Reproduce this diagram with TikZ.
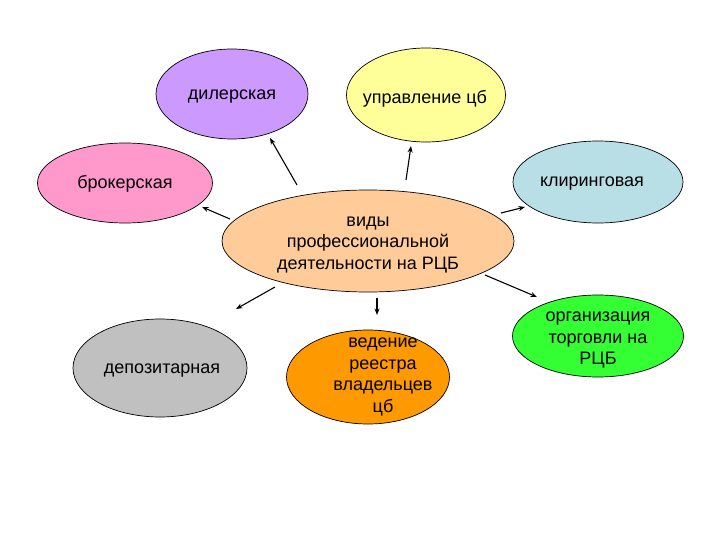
\documentclass[tikz,border=0pt]{standalone}
\usepackage{fontspec}
\setmainfont{Liberation Sans}
\usetikzlibrary{shapes.geometric,arrows.meta}
\definecolor{cdil}{HTML}{CC99FF}
\definecolor{cupr}{HTML}{FFFF99}
\definecolor{cbro}{HTML}{FF99CC}
\definecolor{ckli}{HTML}{B8DEE6}
\definecolor{ccen}{HTML}{FFCC99}
\definecolor{cdep}{HTML}{C0C0C0}
\definecolor{cved}{HTML}{FF9900}
\definecolor{corg}{HTML}{33FF33}
\begin{document}
\begin{tikzpicture}[x=1pt,y=-1pt,
  oval/.style={ellipse,draw=black,line width=0.7pt,inner sep=0pt},
  lbl/.style={font=\fontsize{18}{21.5}\selectfont,align=center,inner sep=0pt,text=black},
  arr/.style={line width=1.1pt,-{Stealth[length=6.5pt,width=5pt]}}]
\useasboundingbox (0,0) rectangle (720,540);
% ellipses
\node[oval,fill=cdil,minimum width=152pt,minimum height=90pt] (dil) at (232,94) {};
\node[oval,fill=cupr,minimum width=159pt,minimum height=94pt] (upr) at (426,95) {};
\node[oval,fill=cbro,minimum width=175pt,minimum height=80pt] (bro) at (125,183) {};
\node[oval,fill=ckli,minimum width=170pt,minimum height=82pt] (kli) at (598,182) {};
\node[oval,fill=ccen,minimum width=292pt,minimum height=102pt] (cen) at (368,241) {};
\node[oval,fill=cdep,minimum width=174pt,minimum height=98pt] (dep) at (160,368) {};
\node[oval,fill=cved,minimum width=163pt,minimum height=94pt] (ved) at (368,377) {};
\node[oval,fill=corg,minimum width=171pt,minimum height=82pt] (org) at (598,336) {};
% labels
\node[lbl] (tdil) at (232,97) {дилерская};
\node[lbl] (tupr) at (425,99) {управление цб};
\node[lbl] (tbro) at (125,184) {брокерская};
\node[lbl] (tkli) at (592,184) {клиринговая};
\node[lbl] (tcen) at (368,245) {виды\\профессиональной\\деятельности на РЦБ};
\node[lbl] (tdep) at (162,371) {депозитарная};
\node[lbl] (tved) at (383,377) {ведение\\реестра\\владельцев\\цб};
\node[lbl] (torg) at (598,340) {организация\\торговли на\\РЦБ};
% arrow ends
\coordinate (s1) at (297,185); \coordinate (e1) at (270,138);
\coordinate (s2) at (406,180); \coordinate (e2) at (411,146);
\coordinate (s3) at (230,219); \coordinate (e3) at (202,207);
\coordinate (s4) at (501,213); \coordinate (e4) at (525,207);
\coordinate (s5) at (275,287); \coordinate (e5) at (236,309);
\coordinate (s6) at (377,298); \coordinate (e6) at (377,315);
\coordinate (s7) at (485,275); \coordinate (e7) at (537,297);
\draw[arr] (s1) -- (e1);
\draw[arr] (s2) -- (e2);
\draw[arr] (s3) -- (e3);
\draw[arr] (s4) -- (e4);
\draw[arr] (s5) -- (e5);
\draw[arr] (s6) -- (e6);
\draw[arr] (s7) -- (e7);
\end{tikzpicture}
\end{document}
